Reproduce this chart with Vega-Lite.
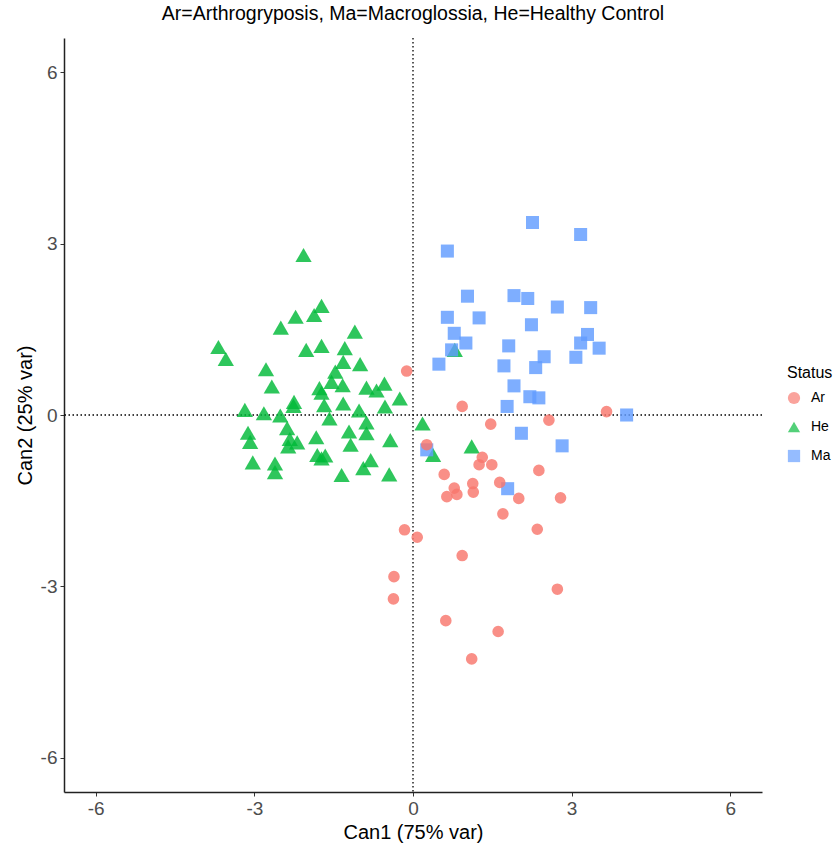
{
  "$schema": "https://vega.github.io/schema/vega-lite/v6.json",
  "width": 698,
  "height": 754,
  "autosize": "none",
  "padding": {"left": 64, "top": 38, "right": 77, "bottom": 51},
  "background": "white",
  "config": {
    "font": "Liberation Sans",
    "view": {"stroke": null},
    "legend": {"symbolSize": 150}
  },
  "title": {
    "text": "Ar=Arthrogryposis, Ma=Macroglossia, He=Healthy Control",
    "fontSize": 19.5,
    "fontWeight": "normal",
    "color": "black",
    "anchor": "middle",
    "offset": 13
  },
  "datasets": {
    "pts": [
      {"Status": "He", "Can1": -2.07, "Can2": 2.80},
      {"Status": "He", "Can1": -1.73, "Can2": 1.91},
      {"Status": "He", "Can1": -1.87, "Can2": 1.75},
      {"Status": "He", "Can1": -2.22, "Can2": 1.72},
      {"Status": "He", "Can1": -2.50, "Can2": 1.53},
      {"Status": "He", "Can1": -1.10, "Can2": 1.46},
      {"Status": "He", "Can1": -3.68, "Can2": 1.19},
      {"Status": "He", "Can1": -3.54, "Can2": 0.98},
      {"Status": "He", "Can1": -2.02, "Can2": 1.14},
      {"Status": "He", "Can1": -1.73, "Can2": 1.21},
      {"Status": "He", "Can1": -1.29, "Can2": 1.17},
      {"Status": "He", "Can1": -1.32, "Can2": 0.93},
      {"Status": "He", "Can1": -1.00, "Can2": 0.89},
      {"Status": "He", "Can1": -2.78, "Can2": 0.80},
      {"Status": "He", "Can1": -1.47, "Can2": 0.76},
      {"Status": "He", "Can1": -1.54, "Can2": 0.58},
      {"Status": "He", "Can1": -1.33, "Can2": 0.52},
      {"Status": "He", "Can1": -2.67, "Can2": 0.50},
      {"Status": "He", "Can1": -1.77, "Can2": 0.47},
      {"Status": "He", "Can1": -1.73, "Can2": 0.39},
      {"Status": "He", "Can1": -0.88, "Can2": 0.48},
      {"Status": "He", "Can1": -0.69, "Can2": 0.43},
      {"Status": "He", "Can1": -0.54, "Can2": 0.55},
      {"Status": "He", "Can1": -0.25, "Can2": 0.29},
      {"Status": "He", "Can1": -0.53, "Can2": 0.15},
      {"Status": "He", "Can1": -1.32, "Can2": 0.20},
      {"Status": "He", "Can1": -1.68, "Can2": 0.17},
      {"Status": "He", "Can1": -2.25, "Can2": 0.23},
      {"Status": "He", "Can1": -2.26, "Can2": 0.16},
      {"Status": "He", "Can1": -3.18, "Can2": 0.09},
      {"Status": "He", "Can1": -2.82, "Can2": 0.03},
      {"Status": "He", "Can1": -2.51, "Can2": -0.01},
      {"Status": "He", "Can1": -1.58, "Can2": -0.06},
      {"Status": "He", "Can1": -1.02, "Can2": 0.08},
      {"Status": "He", "Can1": -3.12, "Can2": -0.31},
      {"Status": "He", "Can1": -3.08, "Can2": -0.47},
      {"Status": "He", "Can1": -2.38, "Can2": -0.23},
      {"Status": "He", "Can1": -2.33, "Can2": -0.42},
      {"Status": "He", "Can1": -2.36, "Can2": -0.55},
      {"Status": "He", "Can1": -2.19, "Can2": -0.48},
      {"Status": "He", "Can1": -1.83, "Can2": -0.39},
      {"Status": "He", "Can1": -1.21, "Can2": -0.29},
      {"Status": "He", "Can1": -0.88, "Can2": -0.13},
      {"Status": "He", "Can1": -0.88, "Can2": -0.32},
      {"Status": "He", "Can1": -1.18, "Can2": -0.52},
      {"Status": "He", "Can1": -0.43, "Can2": -0.44},
      {"Status": "He", "Can1": -3.03, "Can2": -0.83},
      {"Status": "He", "Can1": -2.61, "Can2": -0.85},
      {"Status": "He", "Can1": -2.61, "Can2": -1.00},
      {"Status": "He", "Can1": -1.81, "Can2": -0.70},
      {"Status": "He", "Can1": -1.66, "Can2": -0.71},
      {"Status": "He", "Can1": -1.73, "Can2": -0.76},
      {"Status": "He", "Can1": -1.35, "Can2": -1.05},
      {"Status": "He", "Can1": -0.94, "Can2": -0.93},
      {"Status": "He", "Can1": -0.80, "Can2": -0.79},
      {"Status": "He", "Can1": -0.45, "Can2": -1.04},
      {"Status": "He", "Can1": 0.18, "Can2": -0.15},
      {"Status": "He", "Can1": 0.38, "Can2": -0.70},
      {"Status": "He", "Can1": 1.11, "Can2": -0.55},
      {"Status": "He", "Can1": 0.79, "Can2": 1.14},
      {"Status": "Ma", "Can1": 2.26, "Can2": 3.37},
      {"Status": "Ma", "Can1": 3.17, "Can2": 3.16},
      {"Status": "Ma", "Can1": 0.65, "Can2": 2.87},
      {"Status": "Ma", "Can1": 1.03, "Can2": 2.08},
      {"Status": "Ma", "Can1": 1.91, "Can2": 2.09},
      {"Status": "Ma", "Can1": 2.17, "Can2": 2.04},
      {"Status": "Ma", "Can1": 2.73, "Can2": 1.89},
      {"Status": "Ma", "Can1": 3.36, "Can2": 1.88},
      {"Status": "Ma", "Can1": 0.65, "Can2": 1.71},
      {"Status": "Ma", "Can1": 1.25, "Can2": 1.70},
      {"Status": "Ma", "Can1": 2.24, "Can2": 1.58},
      {"Status": "Ma", "Can1": 0.78, "Can2": 1.43},
      {"Status": "Ma", "Can1": 1.00, "Can2": 1.26},
      {"Status": "Ma", "Can1": 3.30, "Can2": 1.41},
      {"Status": "Ma", "Can1": 3.17, "Can2": 1.26},
      {"Status": "Ma", "Can1": 3.52, "Can2": 1.17},
      {"Status": "Ma", "Can1": 1.81, "Can2": 1.21},
      {"Status": "Ma", "Can1": 0.73, "Can2": 1.14},
      {"Status": "Ma", "Can1": 2.48, "Can2": 1.02},
      {"Status": "Ma", "Can1": 3.08, "Can2": 1.01},
      {"Status": "Ma", "Can1": 0.49, "Can2": 0.89},
      {"Status": "Ma", "Can1": 1.72, "Can2": 0.86},
      {"Status": "Ma", "Can1": 2.32, "Can2": 0.83},
      {"Status": "Ma", "Can1": 1.91, "Can2": 0.51},
      {"Status": "Ma", "Can1": 2.21, "Can2": 0.32},
      {"Status": "Ma", "Can1": 2.38, "Can2": 0.30},
      {"Status": "Ma", "Can1": 1.78, "Can2": 0.15},
      {"Status": "Ma", "Can1": 4.04, "Can2": 0.00},
      {"Status": "Ma", "Can1": 2.05, "Can2": -0.32},
      {"Status": "Ma", "Can1": 2.82, "Can2": -0.54},
      {"Status": "Ma", "Can1": 0.26, "Can2": -0.61},
      {"Status": "Ma", "Can1": 1.79, "Can2": -1.29},
      {"Status": "Ar", "Can1": -0.12, "Can2": 0.77},
      {"Status": "Ar", "Can1": 0.93, "Can2": 0.15},
      {"Status": "Ar", "Can1": 3.66, "Can2": 0.06},
      {"Status": "Ar", "Can1": 1.47, "Can2": -0.16},
      {"Status": "Ar", "Can1": 2.57, "Can2": -0.09},
      {"Status": "Ar", "Can1": 0.26, "Can2": -0.52},
      {"Status": "Ar", "Can1": 1.31, "Can2": -0.74},
      {"Status": "Ar", "Can1": 1.25, "Can2": -0.87},
      {"Status": "Ar", "Can1": 1.49, "Can2": -0.87},
      {"Status": "Ar", "Can1": 0.59, "Can2": -1.04},
      {"Status": "Ar", "Can1": 2.38, "Can2": -0.97},
      {"Status": "Ar", "Can1": 1.13, "Can2": -1.20},
      {"Status": "Ar", "Can1": 1.64, "Can2": -1.18},
      {"Status": "Ar", "Can1": 0.78, "Can2": -1.28},
      {"Status": "Ar", "Can1": 0.83, "Can2": -1.39},
      {"Status": "Ar", "Can1": 0.64, "Can2": -1.43},
      {"Status": "Ar", "Can1": 1.14, "Can2": -1.35},
      {"Status": "Ar", "Can1": 2.00, "Can2": -1.46},
      {"Status": "Ar", "Can1": 2.79, "Can2": -1.45},
      {"Status": "Ar", "Can1": 1.70, "Can2": -1.73},
      {"Status": "Ar", "Can1": -0.16, "Can2": -2.01},
      {"Status": "Ar", "Can1": 0.08, "Can2": -2.14},
      {"Status": "Ar", "Can1": 2.35, "Can2": -2.00},
      {"Status": "Ar", "Can1": 0.93, "Can2": -2.46},
      {"Status": "Ar", "Can1": -0.36, "Can2": -2.83},
      {"Status": "Ar", "Can1": -0.37, "Can2": -3.22},
      {"Status": "Ar", "Can1": 2.73, "Can2": -3.05},
      {"Status": "Ar", "Can1": 0.62, "Can2": -3.60},
      {"Status": "Ar", "Can1": 1.61, "Can2": -3.79},
      {"Status": "Ar", "Can1": 1.11, "Can2": -4.27}
    ]
  },
  "encoding": {
    "x": {
      "field": "Can1", "type": "quantitative",
      "title": "Can1 (75% var)",
      "scale": {"domain": [-6.6, 6.6], "nice": false, "zero": false},
      "axis": {"values": [-6, -3, 0, 3, 6], "labelExpr": "'' + datum.value", "grid": false, "domainColor": "#222222", "domainWidth": 1.5, "tickColor": "#333333", "tickSize": 4, "labelPadding": 3, "labelFontSize": 19, "labelColor": "#4d4d4d", "titleFontSize": 20, "titleFontWeight": "normal", "titleColor": "black", "titlePadding": 4}
    },
    "y": {
      "field": "Can2", "type": "quantitative",
      "title": "Can2 (25% var)",
      "scale": {"domain": [-6.6, 6.6], "nice": false, "zero": false},
      "axis": {"values": [-6, -3, 0, 3, 6], "labelExpr": "'' + datum.value", "grid": false, "domainColor": "#222222", "domainWidth": 1.5, "tickColor": "#333333", "tickSize": 4, "labelPadding": 3, "labelFontSize": 19, "labelColor": "#4d4d4d", "titleFontSize": 20, "titleFontWeight": "normal", "titleColor": "black", "titlePadding": 5}
    },
    "color": {
      "field": "Status", "type": "nominal",
      "scale": {"domain": ["Ar", "He", "Ma"], "range": ["#F8766D", "#00BA38", "#619CFF"]},
      "legend": {
        "orient": "none", "legendX": 723, "legendY": 327,
        "titleFontSize": 16, "titleFontWeight": "normal", "titleColor": "black",
        "labelFontSize": 14, "labelColor": "black", "rowPadding": 10, "titlePadding": 10,
        "symbolOpacity": 0.82, "labelOffset": 10
      }
    },
    "shape": {
      "field": "Status", "type": "nominal",
      "scale": {"domain": ["Ar", "He", "Ma"], "range": ["circle", "triangle-up", "square"]}
    }
  },
  "layer": [
    {
      "data": {"values": [{"v": 0}]},
      "mark": {"type": "rule", "color": "black", "strokeDash": [1.5, 2.5], "strokeWidth": 1.3},
      "encoding": {"x": {"field": "v", "type": "quantitative"}, "y": null, "color": null, "shape": null}
    },
    {
      "data": {"values": [{"v": 0}]},
      "mark": {"type": "rule", "color": "black", "strokeDash": [1.5, 2.5], "strokeWidth": 1.3},
      "encoding": {"y": {"field": "v", "type": "quantitative"}, "x": null, "color": null, "shape": null}
    },
    {
      "data": {"name": "pts"},
      "transform": [{"filter": "datum.Status === 'He'"}],
      "mark": {"type": "point", "filled": true, "opacity": 0.82, "strokeWidth": 0, "size": 265}
    },
    {
      "data": {"name": "pts"},
      "transform": [{"filter": "datum.Status === 'Ma'"}],
      "mark": {"type": "point", "filled": true, "opacity": 0.82, "strokeWidth": 0, "size": 170}
    },
    {
      "data": {"name": "pts"},
      "transform": [{"filter": "datum.Status === 'Ar'"}],
      "mark": {"type": "point", "filled": true, "opacity": 0.82, "strokeWidth": 0, "size": 135}
    }
  ]
}
